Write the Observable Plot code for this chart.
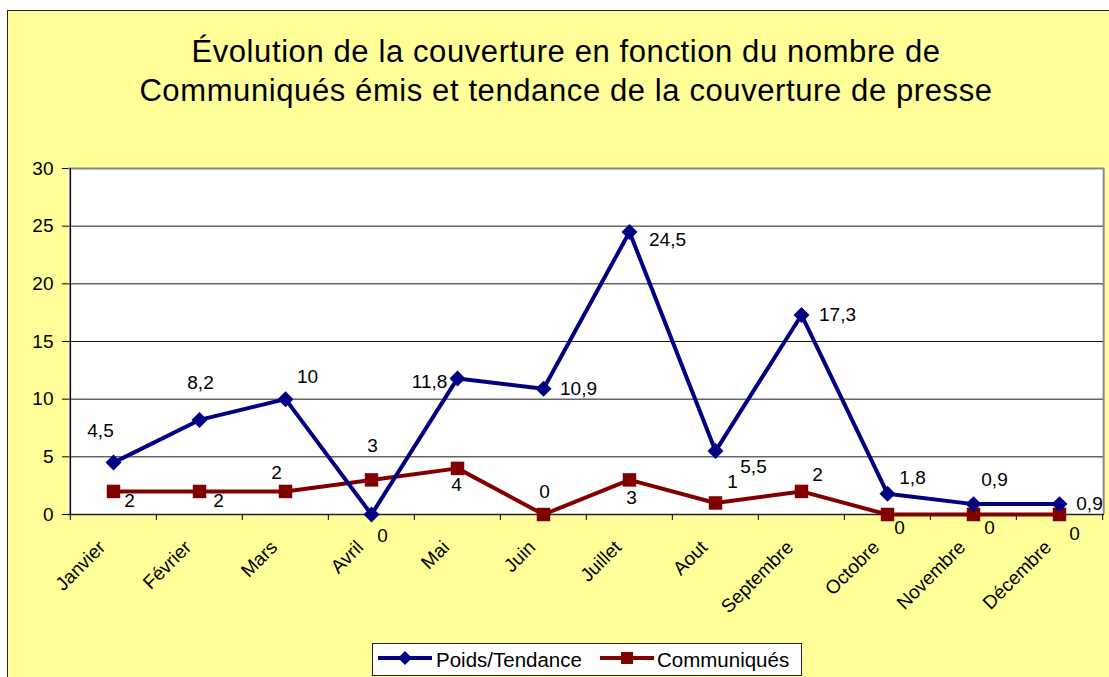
<!DOCTYPE html>
<html>
<head>
<meta charset="utf-8">
<script src="https://cdn.jsdelivr.net/npm/d3@7"></script>
<script src="https://cdn.jsdelivr.net/npm/@observablehq/plot@0.6"></script>
<style>
  html, body { margin: 0; padding: 0; background: #fff; overflow: hidden; width: 1109px; height: 677px; }
  #chart { position: absolute; left: 7px; top: 10px; width: 1200px; height: 720px; border: 1px solid #222; background: #FFFF99; font-family: "Liberation Sans", Arial, sans-serif; color: #000; }
  #title { width: 1116px; padding-top: 21px; height: 78px; text-align: center; font-size: 31px; line-height: 39px; letter-spacing: 0.6px; }
  #plotwrap { height: 530px; }
  #legend { position: relative; margin-left: 364px; margin-top: 3px; width: 428px; height: 31px; border: 1px solid #222; background: #fff; font-size: 20.5px; }
  #legend .sw { position: absolute; top: 6px; }
  #legend .lt { position: absolute; top: 4px; line-height: 23px; white-space: nowrap; }
</style>
</head>
<body>
<div id="chart">
  <div id="title">Évolution de la couverture en fonction du nombre de<br>Communiqués émis et tendance de la couverture de presse</div>
  <div id="plotwrap"></div>
  <div id="legend"></div>
</div>
<script>
const months = ["Janvier","Février","Mars","Avril","Mai","Juin","Juillet","Aout","Septembre","Octobre","Novembre","Décembre"];
const poids = [4.5, 8.2, 10, 0, 11.8, 10.9, 24.5, 5.5, 17.3, 1.8, 0.9, 0.9];
const communiques = [2, 2, 2, 3, 4, 0, 3, 1, 2, 0, 0, 0];
const yTicks = [0, 5, 10, 15, 20, 25, 30];
const seriesNames = ["Poids/Tendance", "Communiqués"];
const seriesColors = ["#000080", "#800000"];

// label placement offsets (pixels, layout only)
const poidsLabelOffsets = [[-13,-32],[1,-37],[22,-22],[11,21],[-28,3],[35,0],[38,8],[38,16],[36,0],[25,-16],[21,-24],[30,0]];
const commLabelOffsets = [[16,9],[19,9],[-9,-19],[1,-34],[-1,17],[1,-23],[2,18],[17,-21],[16,-17],[12,13],[16,13],[15,19]];

const W = 1101, H = 530, mL = 60, mR = 5, mT = 58, mB = 126;
const step = (W - mL - mR) / months.length;
const frameH = H - mT - mB;
const fmt = v => String(v).replace(".", ",");

const rows = months.map((m, i) => ({month: m, poids: poids[i], comm: communiques[i]}));

const labelMarks = [];
rows.forEach((r, i) => {
  labelMarks.push(Plot.text([r], {x: "month", y: "poids", text: d => fmt(d.poids), dx: poidsLabelOffsets[i][0], dy: poidsLabelOffsets[i][1], fontSize: 19, fill: "#000", lineAnchor: "middle"}));
  labelMarks.push(Plot.text([r], {x: "month", y: "comm", text: d => fmt(d.comm), dx: commLabelOffsets[i][0], dy: commLabelOffsets[i][1], fontSize: 19, fill: "#000", lineAnchor: "middle"}));
});

const chart = Plot.plot({
  width: W, height: H,
  marginLeft: mL, marginRight: mR, marginTop: mT, marginBottom: mB,
  style: {background: "transparent", fontFamily: "'Liberation Sans', Arial, sans-serif", fontSize: "19px", color: "#000", overflow: "visible"},
  x: {type: "band", domain: months, padding: 0, axis: null},
  y: {domain: [0, 30], axis: null},
  marks: [
    Plot.frame({fill: "white", stroke: null}),
    Plot.gridY(yTicks.filter(t => t > 0 && t < 30), {stroke: "#000", strokeOpacity: 0.9, strokeWidth: 1}),
    Plot.ruleY([30], {stroke: "#888", strokeWidth: 2}),
    Plot.ruleX([months[months.length - 1]], {dx: step / 2 + 1, stroke: "#888", strokeWidth: 2}),
    Plot.ruleY([0], {stroke: "#222", strokeWidth: 1.5}),
    Plot.ruleX([months[0]], {dx: -step / 2, stroke: "#000", strokeWidth: 1.5}),
    Plot.axisY(yTicks, {tickSize: 6, tickPadding: 9, fontSize: 19, stroke: "#000"}),
    Plot.ruleX(months, {x: d => d, dx: -step / 2, insetTop: frameH, insetBottom: -6, stroke: "#000"}),
    Plot.ruleX([months[months.length - 1]], {x: d => d, dx: step / 2, insetTop: frameH, insetBottom: -6, stroke: "#000"}),
    Plot.text(months, {x: d => d, frameAnchor: "bottom", rotate: -45, textAnchor: "end", lineAnchor: "bottom", dx: -7, dy: 34, fontSize: 19, fill: "#000"}),
    Plot.line(rows, {x: "month", y: "comm", stroke: seriesColors[1], strokeWidth: 4}),
    Plot.dot(rows, {x: "month", y: "comm", symbol: "square", r: 7.6, fill: seriesColors[1], stroke: "none"}),
    Plot.line(rows, {x: "month", y: "poids", stroke: seriesColors[0], strokeWidth: 4}),
    Plot.dot(rows, {x: "month", y: "poids", symbol: "diamond2", r: 7.2, fill: seriesColors[0], stroke: "none"}),
    ...labelMarks
  ]
});
document.getElementById("plotwrap").appendChild(chart);

// legend
const legend = document.getElementById("legend");
const layout = [{sw: 5, tx: 63}, {sw: 227, tx: 284}];
seriesNames.forEach((name, i) => {
  const ns = "http://www.w3.org/2000/svg";
  const svg = document.createElementNS(ns, "svg");
  svg.setAttribute("width", 56); svg.setAttribute("height", 16);
  svg.setAttribute("class", "sw");
  svg.style.left = layout[i].sw + "px";
  const line = document.createElementNS(ns, "line");
  line.setAttribute("x1", 0); line.setAttribute("x2", 54); line.setAttribute("y1", 8); line.setAttribute("y2", 8);
  line.setAttribute("stroke", seriesColors[i]); line.setAttribute("stroke-width", 4);
  svg.appendChild(line);
  const mk = document.createElementNS(ns, "path");
  mk.setAttribute("d", i === 0 ? "M27,1L34,8L27,15L20,8Z" : "M21,2H33V14H21Z");
  mk.setAttribute("fill", seriesColors[i]);
  svg.appendChild(mk);
  legend.appendChild(svg);
  const t = document.createElement("span");
  t.className = "lt"; t.textContent = name; t.style.left = layout[i].tx + "px";
  legend.appendChild(t);
});
</script>
</body>
</html>
